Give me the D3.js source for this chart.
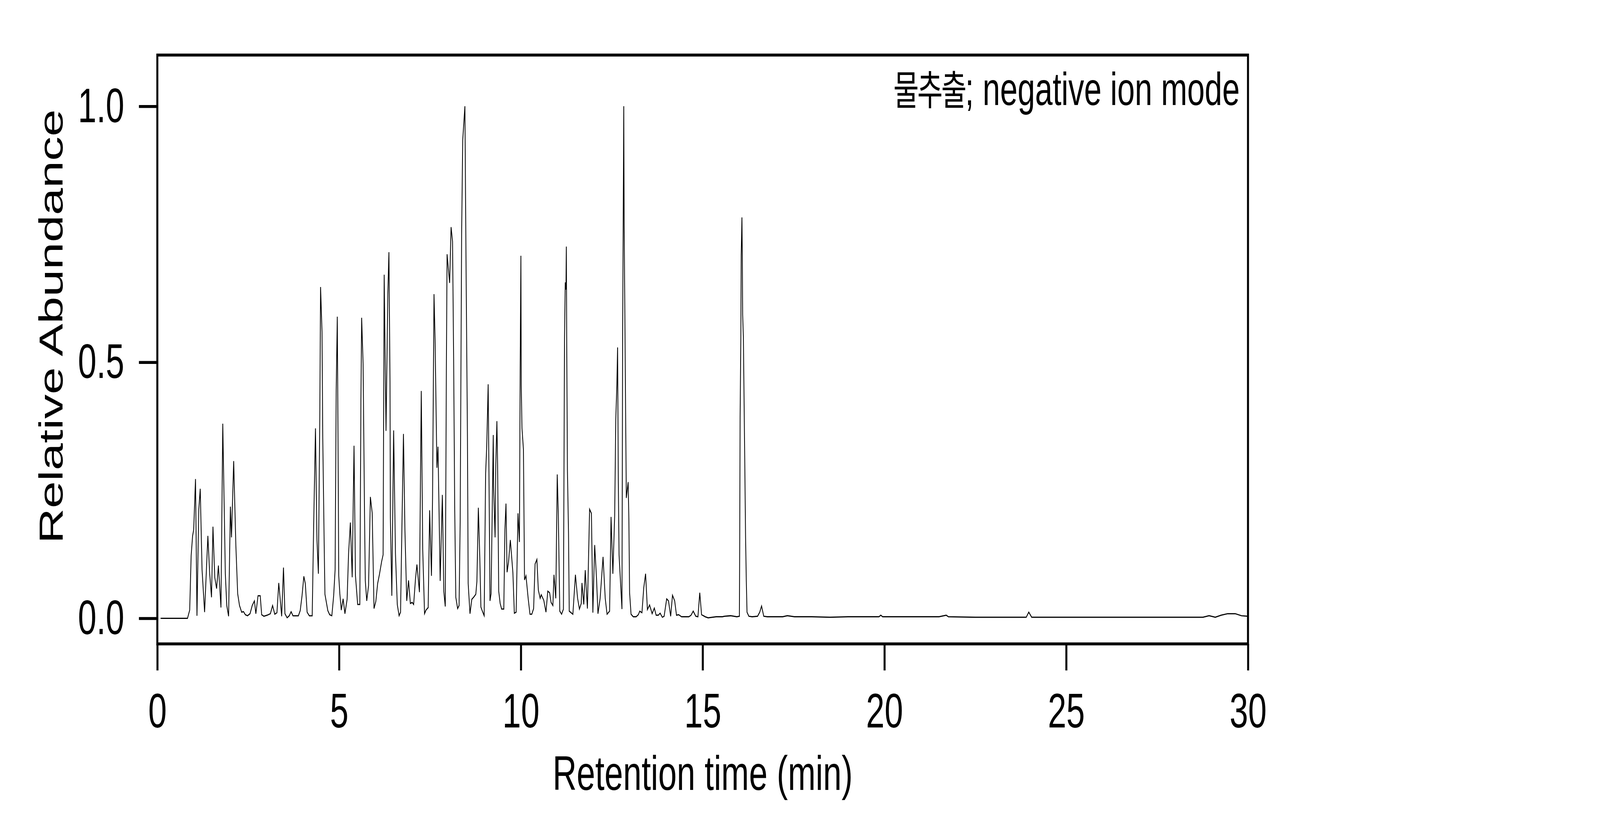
<!DOCTYPE html>
<html>
<head>
<meta charset="utf-8">
<script src="https://cdn.jsdelivr.net/npm/d3@7"></script>
<style>
  html, body { margin: 0; padding: 0; background: #fff; overflow: hidden; }
  text { font-family: "Liberation Sans", Arial, sans-serif; fill: #000; }
</style>
</head>
<body>
<div id="canvas"></div>
<script>
"use strict"

/* drawing is laid out on a 6000x2100 grid; the viewBox squeezes it into whatever window we get */
let svgWidth = 6000;
let svgHeight = 2100;
let plotLeft = 590;
let plotRight = 4680;
let plotTop = 141;
let plotBottom = 1649;

/* tick values */
let xTicks = [0, 5, 10, 15, 20, 25, 30];
let yTicks = [0, 0.5, 1.0];

/* chromatogram: retention time (min) and relative abundance */
let retentionTime = [
  0.09, 0.83, 0.89, 0.93, 0.97, 1.00, 1.05, 1.09, 1.14, 1.18, 1.23, 1.30, 1.39, 1.44, 1.49, 1.53,
  1.58, 1.63, 1.68, 1.75, 1.80, 1.85, 1.87, 1.91, 1.96, 2.01, 2.04, 2.10, 2.16, 2.21, 2.26, 2.32,
  2.37, 2.42, 2.48, 2.55, 2.61, 2.67, 2.71, 2.77, 2.83, 2.87, 2.93, 3.02, 3.11, 3.17, 3.23, 3.29,
  3.34, 3.42, 3.47, 3.51, 3.57, 3.63, 3.68, 3.73, 3.88, 3.93, 3.98, 4.03, 4.07, 4.12, 4.18, 4.26,
  4.30, 4.35, 4.39, 4.43, 4.47, 4.49, 4.53, 4.55, 4.59, 4.61, 4.69, 4.74, 4.80, 4.85, 4.89, 4.92,
  4.95, 4.97, 4.99, 5.02, 5.06, 5.11, 5.16, 5.22, 5.26, 5.31, 5.36, 5.41, 5.45, 5.51, 5.57, 5.60,
  5.62, 5.66, 5.70, 5.72, 5.76, 5.81, 5.86, 5.91, 5.96, 6.01, 6.06, 6.11, 6.17, 6.21, 6.24, 6.29,
  6.34, 6.37, 6.40, 6.41, 6.45, 6.50, 6.55, 6.60, 6.65, 6.69, 6.73, 6.77, 6.81, 6.86, 6.91, 6.96,
  7.01, 7.05, 7.10, 7.14, 7.21, 7.26, 7.30, 7.35, 7.39, 7.45, 7.49, 7.54, 7.57, 7.61, 7.64, 7.69,
  7.72, 7.78, 7.84, 7.88, 7.92, 7.95, 7.97, 8.04, 8.08, 8.12, 8.15, 8.18, 8.21, 8.26, 8.30, 8.33,
  8.37, 8.40, 8.46, 8.49, 8.53, 8.55, 8.60, 8.65, 8.71, 8.76, 8.79, 8.83, 8.87, 8.90, 8.94, 8.99,
  9.03, 9.06, 9.10, 9.13, 9.15, 9.18, 9.21, 9.24, 9.25, 9.29, 9.31, 9.34, 9.36, 9.39, 9.43, 9.47,
  9.53, 9.56, 9.59, 9.62, 9.66, 9.71, 9.78, 9.82, 9.87, 9.92, 9.94, 9.96, 9.98, 9.99, 10.00, 10.01,
  10.03, 10.07, 10.10, 10.14, 10.20, 10.25, 10.30, 10.35, 10.39, 10.44, 10.48, 10.53, 10.56, 10.63, 10.69, 10.74,
  10.79, 10.83, 10.88, 10.91, 10.96, 10.98, 11.00, 11.03, 11.07, 11.12, 11.17, 11.19, 11.20, 11.22, 11.24, 11.25,
  11.26, 11.28, 11.31, 11.33, 11.43, 11.50, 11.56, 11.61, 11.66, 11.68, 11.73, 11.77, 11.83, 11.89, 11.94, 11.98,
  12.03, 12.08, 12.12, 12.18, 12.26, 12.32, 12.37, 12.44, 12.48, 12.53, 12.58, 12.61, 12.64, 12.66, 12.68, 12.70,
  12.78, 12.79, 12.80, 12.82, 12.83, 12.84, 12.86, 12.88, 12.90, 12.95, 12.97, 12.99, 13.03, 13.09, 13.17, 13.23,
  13.27, 13.33, 13.38, 13.43, 13.48, 13.54, 13.61, 13.67, 13.72, 13.78, 13.83, 13.89, 13.94, 14.01, 14.06, 14.12,
  14.17, 14.23, 14.28, 14.34, 14.42, 14.62, 14.68, 14.74, 14.81, 14.87, 14.92, 14.97, 15.07, 15.15, 15.37, 15.54,
  15.60, 15.77, 15.94, 16.01, 16.02, 16.03, 16.05, 16.06, 16.08, 16.09, 16.10, 16.12, 16.14, 16.16, 16.18, 16.20,
  16.22, 16.27, 16.36, 16.51, 16.57, 16.62, 16.68, 16.78, 17.20, 17.33, 17.53, 18.00, 18.50, 19.00, 19.50, 19.85,
  19.90, 19.95, 20.50, 21.00, 21.50, 21.70, 21.76, 22.50, 23.00, 23.90, 23.97, 24.05, 24.50, 25.00, 26.00, 27.00,
  28.00, 28.76, 28.93, 29.10, 29.26, 29.44, 29.65, 29.82, 30.00
];

let abundance = [
  0, 0, 0.016, 0.122, 0.161, 0.173, 0.272, 0.005, 0.212, 0.253, 0.095, 0.012, 0.161, 0.087, 0.041, 0.179,
  0.080, 0.058, 0.103, 0.021, 0.380, 0.173, 0.087, 0.025, 0.004, 0.218, 0.158, 0.307, 0.142, 0.048, 0.025, 0.012,
  0.013, 0.007, 0.005, 0.009, 0.025, 0.034, 0.009, 0.044, 0.044, 0.007, 0.004, 0.006, 0.009, 0.025, 0.008, 0.011,
  0.069, 0.004, 0.099, 0.009, 0.001, 0.005, 0.013, 0.005, 0.005, 0.015, 0.044, 0.082, 0.068, 0.012, 0.005, 0.005,
  0.181, 0.371, 0.154, 0.087, 0.407, 0.647, 0.559, 0.353, 0.142, 0.047, 0.015, 0.007, 0.005, 0.044, 0.095, 0.446,
  0.589, 0.353, 0.083, 0.048, 0.016, 0.038, 0.009, 0.037, 0.126, 0.187, 0.080, 0.337, 0.083, 0.027, 0.027, 0.427,
  0.587, 0.497, 0.197, 0.074, 0.034, 0.064, 0.237, 0.206, 0.019, 0.033, 0.068, 0.086, 0.111, 0.124, 0.671, 0.366,
  0.633, 0.715, 0.462, 0.197, 0.044, 0.367, 0.126, 0.027, 0.005, 0.012, 0.189, 0.360, 0.173, 0.034, 0.074, 0.029,
  0.031, 0.027, 0.076, 0.105, 0.051, 0.444, 0.134, 0.009, 0.016, 0.021, 0.211, 0.083, 0.235, 0.633, 0.544, 0.294,
  0.335, 0.073, 0.241, 0.052, 0.023, 0.485, 0.711, 0.655, 0.764, 0.736, 0.508, 0.212, 0.041, 0.019, 0.025, 0.189,
  0.750, 0.934, 1.000, 0.704, 0.353, 0.068, 0.009, 0.037, 0.042, 0.047, 0.072, 0.216, 0.118, 0.022, 0.014, 0.005,
  0.283, 0.335, 0.457, 0.215, 0.034, 0.048, 0.201, 0.358, 0.258, 0.158, 0.300, 0.385, 0.297, 0.053, 0.029, 0.018,
  0.018, 0.173, 0.224, 0.090, 0.110, 0.153, 0.089, 0.010, 0.012, 0.205, 0.177, 0.149, 0.484, 0.597, 0.708, 0.455,
  0.371, 0.330, 0.075, 0.083, 0.039, 0.008, 0.008, 0.019, 0.106, 0.115, 0.055, 0.039, 0.046, 0.035, 0.012, 0.053,
  0.050, 0.031, 0.025, 0.085, 0.039, 0.159, 0.281, 0.201, 0.014, 0.008, 0.018, 0.371, 0.547, 0.656, 0.642, 0.726,
  0.551, 0.290, 0.166, 0.014, 0.008, 0.085, 0.039, 0.018, 0.029, 0.069, 0.027, 0.094, 0.019, 0.213, 0.205, 0.011,
  0.143, 0.078, 0.009, 0.039, 0.120, 0.039, 0.008, 0.014, 0.198, 0.087, 0.201, 0.388, 0.455, 0.529, 0.265, 0.124,
  0.018, 0.300, 0.575, 0.855, 1.000, 0.769, 0.596, 0.406, 0.235, 0.266, 0.194, 0.050, 0.008, 0.003, 0.003, 0.007,
  0.014, 0.011, 0.060, 0.087, 0.017, 0.026, 0.009, 0.020, 0.006, 0.006, 0.010, 0.002, 0.004, 0.038, 0.034, 0.004,
  0.045, 0.034, 0.006, 0.007, 0.003, 0.003, 0.006, 0.014, 0.004, 0.003, 0.050, 0.007, 0.003, 0.001, 0.003, 0.003,
  0.004, 0.005, 0.003, 0.004, 0.159, 0.392, 0.547, 0.709, 0.783, 0.710, 0.593, 0.549, 0.420, 0.293, 0.159, 0.074,
  0.012, 0.004, 0.003, 0.004, 0.012, 0.024, 0.004, 0.003, 0.003, 0.005, 0.003, 0.003, 0.002, 0.003, 0.003, 0.003,
  0.006, 0.003, 0.003, 0.003, 0.003, 0.006, 0.003, 0.002, 0.002, 0.002, 0.012, 0.002, 0.002, 0.002, 0.002, 0.002,
  0.002, 0.002, 0.005, 0.002, 0.006, 0.009, 0.009, 0.005, 0.004
];

/* the browser window tops out narrower than 6000, so stretch the 6000x2100 layout onto it */
let svg = d3.select("#canvas")
    .append("svg")
    .attr("width", window.innerWidth)
    .attr("height", window.innerHeight)
    .attr("viewBox", "0 0 " + svgWidth + " " + svgHeight)
    .attr("preserveAspectRatio", "none")
    .style("display", "block");

svg.append("rect")
    .attr("width", svgWidth)
    .attr("height", svgHeight)
    .attr("fill", "#fff");

let xScale = d3.scaleLinear()
    .domain([0, 30])
    .range([plotLeft, plotRight]);

let yScale = d3.scaleLinear()
    .domain([-0.05, 1.1])
    .range([plotBottom, plotTop]);

/* trace */
let points = retentionTime.map(function (t, i) {
    return [t, abundance[i]];
});

let line = d3.line()
    .x(function (d) { return xScale(d[0]); })
    .y(function (d) { return yScale(d[1]); });

svg.append("path")
    .datum(points)
    .attr("d", line)
    .attr("fill", "none")
    .attr("stroke", "#000")
    .attr("stroke-width", 3)
    .attr("stroke-linejoin", "miter");

/* axes: ticks outward, no domain path (frame is drawn as a box) */
let xAxis = svg.append("g")
    .attr("transform", "translate(0," + plotBottom + ")")
    .call(d3.axisBottom(xScale)
        .tickValues(xTicks)
        .tickFormat(d3.format("d"))
        .tickSize(68)
        .tickPadding(57));

let yAxis = svg.append("g")
    .attr("transform", "translate(" + plotLeft + ",0)")
    .call(d3.axisLeft(yScale)
        .tickValues(yTicks)
        .tickFormat(d3.format(".1f"))
        .tickSize(69)
        .tickPadding(55));

[xAxis, yAxis].forEach(function (g) {
    g.select(".domain").remove();
    g.selectAll(".tick line")
        .attr("stroke", "#000")
        .attr("stroke-width", 7.5);
    g.selectAll(".tick text")
        .attr("fill", "#000")
        .style("font-family", "'Liberation Sans', Arial, sans-serif")
        .style("font-size", "125px");
});

/* frame */
svg.append("rect")
    .attr("x", plotLeft)
    .attr("y", plotTop)
    .attr("width", plotRight - plotLeft)
    .attr("height", plotBottom - plotTop)
    .attr("fill", "none")
    .attr("stroke", "#000")
    .attr("stroke-width", 7.5);

/* axis titles */
svg.append("text")
    .attr("x", (plotLeft + plotRight) / 2)
    .attr("y", 2023)
    .attr("text-anchor", "middle")
    .style("font-size", "125px")
    .text("Retention time (min)");

svg.append("text")
    .attr("transform", "translate(235,836) rotate(-90)")
    .attr("text-anchor", "middle")
    .style("font-size", "125px")
    .text("Relative Abundance");

/* sample label, top right inside the frame */
let label = svg.append("text")
    .attr("x", 4649)
    .attr("y", 269)
    .attr("text-anchor", "end")
    .style("font-size", "118px");

label.append("tspan")
    .style("font-family", "'Noto Sans CJK KR', sans-serif")
    .style("font-size", "104px")
    .attr("letter-spacing", "-6px")
    .text("물추출");

label.append("tspan")
    .text("; negative ion mode");
</script>
</body>
</html>
